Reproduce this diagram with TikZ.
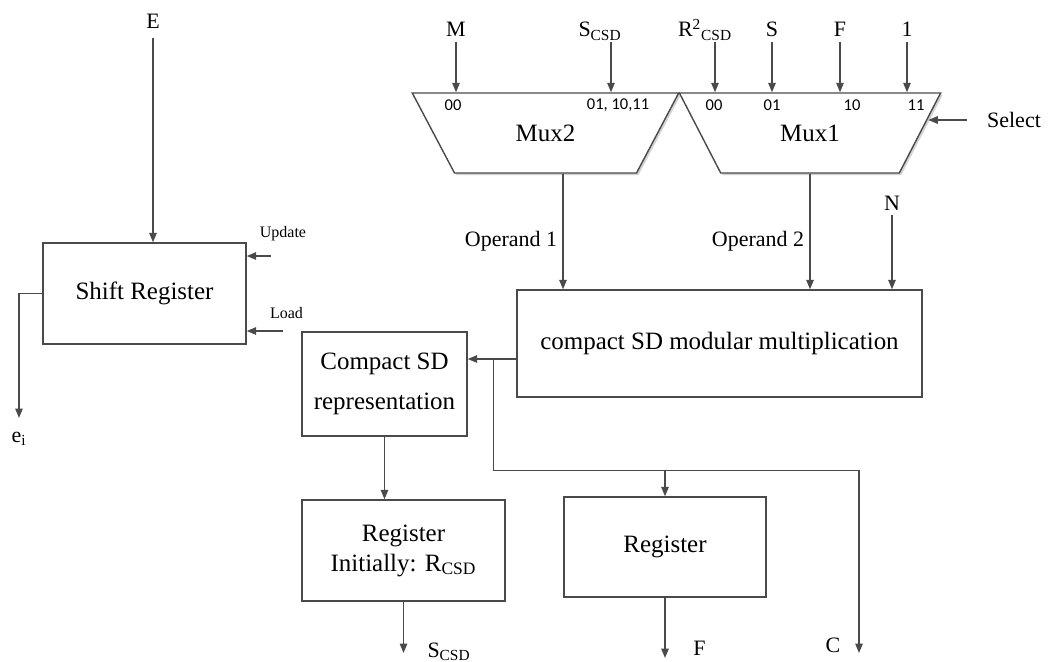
\documentclass[tikz,border=0pt]{standalone}
\usepackage{fontspec}
\setmainfont{Liberation Serif}
\newfontfamily\portfont{Carlito}
\usetikzlibrary{shapes,arrows.meta,positioning,shadows}
\definecolor{linegray}{HTML}{4A4A4A}

\begin{document}
\begin{tikzpicture}[
    x=0.2mm, y=-0.2mm,
    block/.style={rectangle, draw=linegray, line width=0.8pt, align=center, inner sep=0pt, font=\fontsize{14.2}{17}\selectfont},
    mux/.style={trapezium, trapezium angle=50.5, shape border rotate=180, trapezium stretches=true, draw=linegray, fill=white, line width=0.8pt, inner sep=0pt, minimum height=16mm, font=\fontsize{14.2}{17}\selectfont, drop shadow={shadow xshift=0.4mm, shadow yshift=-0.4mm, fill=black!35}},
    sig/.style={inner sep=3pt, font=\fontsize{12.5}{15}\selectfont},
    ctl/.style={inner sep=2pt, font=\fontsize{9.1}{11}\selectfont},
    port/.style={inner sep=0pt, font=\portfont\fontsize{9.4}{11}\selectfont},
    arrow/.style={-{Triangle[length=1.9mm, width=1.5mm]}, draw=linegray, line width=0.8pt}
]
\useasboundingbox (0,0) rectangle (1049,662);

% Muxes and their ports
\node[mux, minimum width=53.4mm] (mux2) at (545.5,133) {Mux2};
\node[mux, minimum width=52.4mm] (mux1) at (810,133) {Mux1};
\node[port] (p2a) at (453,105) {00};
\node[port] (p2b) at (618,105) {01, 10,11};
\node[port] (p1a) at (714,105) {00};
\node[port] (p1b) at (772,105) {01};
\node[port] (p1c) at (852,105) {10};
\node[port] (p1d) at (916,105) {11};

% Mux inputs
\node[sig, anchor=base] (inM) at (456,37) {M};
\node[sig, anchor=base] (inScsd) at (600,37) {S\textsubscript{CSD}};
\node[sig, anchor=base] (inR) at (705,37) {R\textsuperscript{2}\textsubscript{CSD}};
\node[sig, anchor=base] (inS) at (772,37) {S};
\node[sig, anchor=base] (inF) at (840,37) {F};
\node[sig, anchor=base] (inOne) at (907,37) {1};
\draw[arrow] ([yshift=-1mm]inM.base) -- (inM.base |- mux2.north);
\draw[arrow] ([xshift=2.2mm, yshift=-1mm]inScsd.base) -- ([xshift=2.2mm]inScsd.base |- mux2.north);
\draw[arrow] ([xshift=2mm, yshift=-1mm]inR.base) -- ([xshift=2mm]inR.base |- mux1.north);
\draw[arrow] ([yshift=-1mm]inS.base) -- (inS.base |- mux1.north);
\draw[arrow] ([yshift=-1mm]inF.base) -- (inF.base |- mux1.north);
\draw[arrow] ([yshift=-1mm]inOne.base) -- (inOne.base |- mux1.north);

% Select line
\node[sig, anchor=base] (lsel) at (1014,127) {Select};
\coordinate (sel) at (967,120);
\draw[arrow] (sel) -- (sel -| mux1.7);

% Shift register with its controls
\node[block, minimum width=40.6mm, minimum height=20.2mm] (sreg) at (144.5,293.5) {Shift Register};
\node[sig, anchor=base] (inE) at (153,29) {E};
\draw[arrow] ([yshift=-1.8mm]inE.base) -- (inE.base |- sreg.north);
\node[ctl, anchor=base] (lupd) at (283,237) {Update};
\coordinate (upd) at (271,256);
\draw[arrow] (upd) -- (upd -| sreg.east);
\node[ctl, anchor=base] (lload) at (286.5,318) {Load};
\coordinate (ld) at (283,331);
\draw[arrow] (ld) -- (ld -| sreg.east);
\node[sig, anchor=base] (lei) at (19,442) {e\textsubscript{i}};
\draw[arrow] (sreg.west) -| ([yshift=4.8mm]lei.base);

% Multiplier
\node[block, minimum width=81mm, minimum height=21.4mm] (mult) at (719.5,343.5) {compact SD modular multiplication};
\draw[arrow] ([xshift=3.5mm]mux2.south) -- ([xshift=3.5mm]mux2.south |- mult.north) node[sig, pos=0.58, left] (op1) {Operand 1};
\draw[arrow] (mux1.south) -- (mux1.south |- mult.north) node[sig, pos=0.58, left] (op2) {Operand 2};
\node[sig, anchor=base] (inN) at (892,210) {N};
\draw[arrow] ([yshift=-1mm]inN.base) -- (inN.base |- mult.north);

% Result path
\node[block, minimum width=33mm, minimum height=20.8mm] (csd) at (384.5,384) {Compact SD\\[2mm]representation};
\node[block, minimum width=40.6mm, minimum height=20.2mm] (regl) at (403.5,550.5) {Register\\Initially: R\textsubscript{CSD}};
\node[block, minimum width=40.4mm, minimum height=20mm] (regr) at (665,547) {Register};
\draw[arrow] ([yshift=-3.1mm]mult.west) -- ([yshift=-3.1mm]mult.west -| csd.east);
\coordinate (tap) at (493.5,359);
\coordinate (cout) at (859,653);
\draw[arrow] (tap) |- ([yshift=5.2mm]regr.north -| cout) -- (cout);
\draw[arrow] ([yshift=5.2mm]regr.north) -- (regr.north);
\draw[arrow] (csd.south) -- (csd.south |- regl.north);

% Outputs
\coordinate (sout) at (403.5,653);
\draw[arrow] (regl.south) -- (sout);
\node[sig, anchor=base] (lsout) at (449,657) {S\textsubscript{CSD}};
\coordinate (fout) at (665,658);
\draw[arrow] (regr.south) -- (fout);
\node[sig, anchor=base] (lF) at (699.5,655) {F};
\node[sig, anchor=base] (lC) at (833,652) {C};

\end{tikzpicture}
\end{document}
